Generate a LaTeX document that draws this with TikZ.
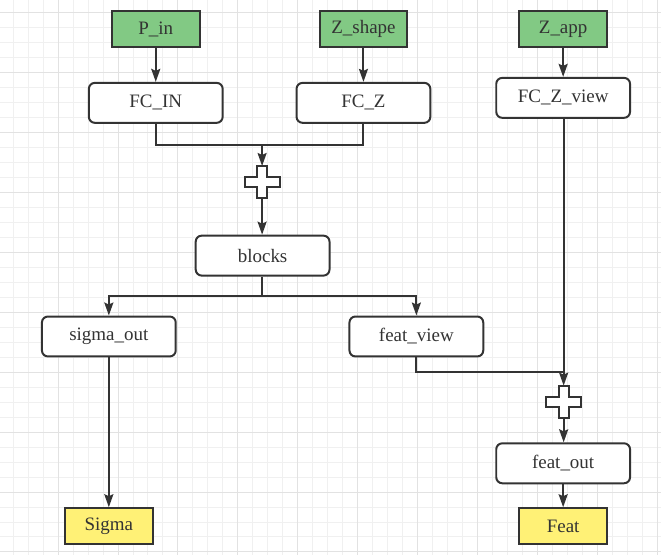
\documentclass[tikz,border=0pt]{standalone}
\usepackage{fontspec}
\setmainfont{Liberation Serif}
\usetikzlibrary{arrows.meta,calc}

\definecolor{linecol}{RGB}{51,51,51}
\definecolor{ingreen}{RGB}{130,201,132}
\definecolor{outyellow}{RGB}{255,241,118}
\definecolor{minorgrid}{RGB}{240,240,240}
\definecolor{majorgrid}{RGB}{226,226,226}

\begin{document}
\begin{tikzpicture}[x=0.75pt, y=-0.75pt,
    every node/.style={font=\fontsize{14.25}{17}\selectfont, text=linecol},
    inbox/.style={draw=linecol, line width=1.5pt, fill=ingreen, minimum width=66pt, minimum height=27pt, inner sep=0pt},
    outbox/.style={inbox, fill=outyellow},
    layer/.style={draw=linecol, line width=1.5pt, fill=white, rounded corners=4.5pt, minimum width=100.5pt, minimum height=30pt, inner sep=0pt},
    addspot/.style={minimum width=26.25pt, minimum height=24pt, inner sep=0pt},
    line/.style={draw=linecol, line width=1.5pt},
    flow/.style={line, -{Stealth[length=9.75pt, width=6.75pt, inset=1.5pt]}}]

    % background grid
    \fill[white] (0,0) rectangle (661,555);
    \foreach \gx in {12.7,27.7,...,660} \draw[minorgrid, line width=0.75pt] (\gx,0) -- (\gx,555);
    \foreach \gy in {12.3,27.3,...,554} \draw[minorgrid, line width=0.75pt] (0,\gy) -- (661,\gy);
    \foreach \gx in {57.7,117.7,...,660} \draw[majorgrid, line width=0.75pt] (\gx,0) -- (\gx,555);
    \foreach \gy in {12.3,72.3,...,554} \draw[majorgrid, line width=0.75pt] (0,\gy) -- (661,\gy);
    \useasboundingbox (0,0) rectangle (661,555);

    % inputs
    \node[inbox] (pin) at (155.5,28.5) {P\_in};
    \node[inbox] (zshape) at (363.5,28.5) {Z\_shape};
    \node[inbox] (zapp) at (563.5,28.5) {Z\_app};

    % layers
    \node[layer] (fcin) at (155.5,102.5) {FC\_IN};
    \node[layer] (fcz) at (363.5,102.5) {FC\_Z};
    \node[layer] (fczview) at (563.5,97.5) {FC\_Z\_view};
    \node[addspot] (add1) at (262,182) {};
    \node[layer] (blocks) at (262.5,255.5) {blocks};
    \node[layer] (sigmaout) at (108.5,336.5) {sigma\_out};
    \node[layer] (featview) at (416.5,336.5) {feat\_view};
    \node[addspot] (add2) at (564,402) {};
    \node[layer] (featout) at (563.5,463.5) {feat\_out};

    % outputs
    \node[outbox] (sigma) at (108.5,526.5) {Sigma};
    \node[outbox] (feat) at (563.5,526.5) {Feat};

    % plus signs
    \foreach \p in {add1,add2}
        \draw[line, fill=white] (\p.center) ++(-5,-16) -- ++(10,0) -- ++(0,11) -- ++(12.5,0) -- ++(0,10)
            -- ++(-12.5,0) -- ++(0,11) -- ++(-10,0) -- ++(0,-11) -- ++(-12.5,0) -- ++(0,-10) -- ++(12.5,0) -- cycle;

    \coordinate (join1) at (262,145);
    \coordinate (split1) at (262,296);
    \coordinate (join2) at (564,372);

    \draw[flow] (pin.south) -- (pin.south |- fcin.north);
    \draw[flow] (zshape.south) -- (zshape.south |- fcz.north);
    \draw[flow] (zapp.south) -- (zapp.south |- fczview.north);

    \draw[line] (fcin.south) |- (join1);
    \draw[line] (fcz.south) |- (join1);
    \draw[flow] (join1) -- (add1.north);
    \draw[flow] (add1.south) -- (add1.south |- blocks.north);

    \draw[line] (split1 |- blocks.south) -- (split1);
    \draw[flow] (split1) -| (sigmaout.north);
    \draw[flow] (split1) -| (featview.north);

    \draw[flow] (sigmaout.south) -- (sigma.north);
    \draw[line] (featview.south) |- (join2);
    \draw[flow] (fczview.south -| add2.north) -- (add2.north);
    \draw[flow] (add2.south) -- (add2.south |- featout.north);
    \draw[flow] (featout.south) -- (featout.south |- feat.north);

\end{tikzpicture}
\end{document}
